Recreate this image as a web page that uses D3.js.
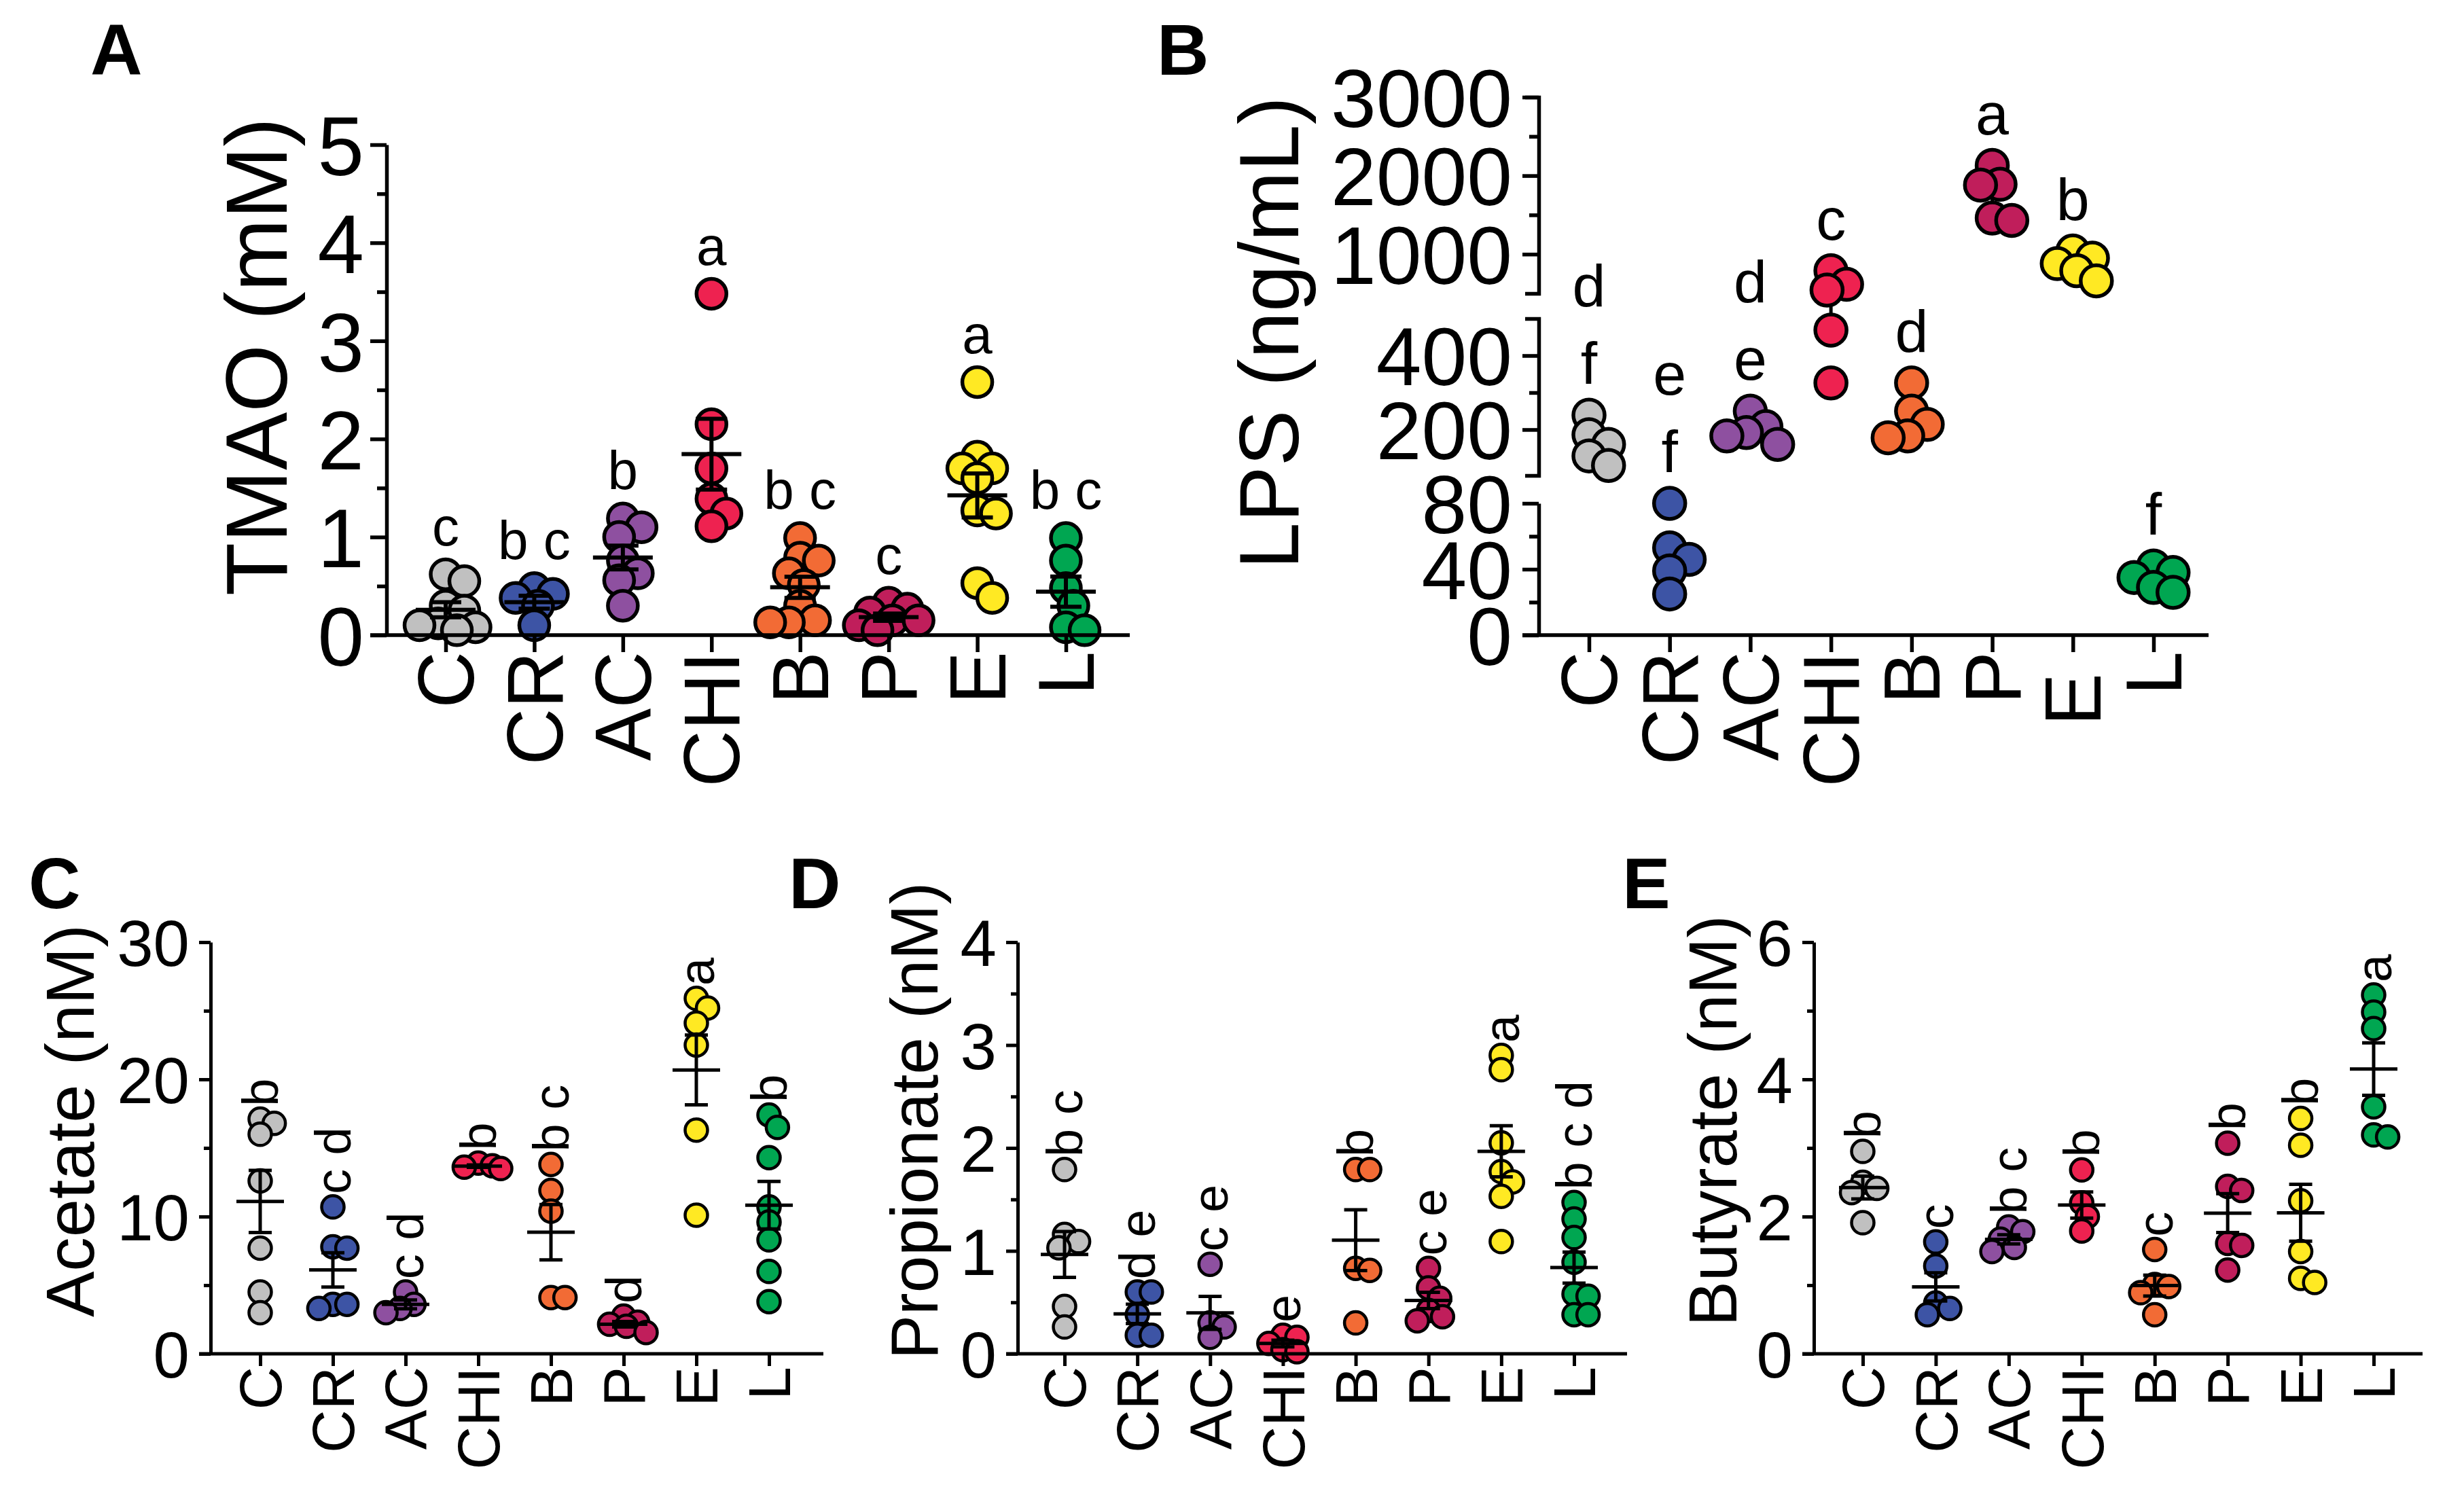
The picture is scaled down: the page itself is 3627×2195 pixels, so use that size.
<!DOCTYPE html>
<html><head><meta charset="utf-8">
<script src="https://cdn.jsdelivr.net/npm/d3@7"></script>
<style>html,body{margin:0;padding:0;background:#fff;} svg{display:block;font-family:"Liberation Sans",Arial,sans-serif;}</style>
</head><body><svg id="chart" width="3627" height="2195"></svg>
<script>
// ---------- data ----------
const categories = ["C","CR","AC","CHI","B","P","E","L"];
const groupColors = ["#c0c0c0","#3d54a5","#8e50a0","#ee2250","#f26b35","#c01e5b","#ffe923","#00a651"];

// A: TMAO (mM)
const tmaoValues = [
  [0.62,0.55,0.3,0.25,0.12,0.1,0.08,0.05],
  [0.48,0.42,0.38,0.3,0.1],
  [1.19,1.1,1.0,0.76,0.63,0.56,0.3],
  [3.48,2.15,1.7,1.39,1.24,1.11],
  [0.99,0.79,0.76,0.63,0.51,0.3,0.15,0.13,0.13],
  [0.33,0.27,0.23,0.15,0.15,0.1,0.05],
  [2.58,1.82,1.7,1.7,1.6,1.27,1.24,0.53,0.38],
  [0.99,0.76,0.48,0.3,0.08,0.05]
];
const tmaoLetters = ["c","b c","b","a","b c","c","a","b c"];
const tmaoTicks = [0,1,2,3,4,5];
const tmaoMinor = [0.5,1.5,2.5,3.5,4.5];

// B: LPS (ng/mL), broken axis
const lpsValues = [
  [239,186,160,129,103],
  [80,53,46,39,25],
  [250,208,192,183,160],
  [790,616,543,469,326],
  [326,250,214,183,178],
  [2130,1890,1880,1460,1430],
  [1040,950,880,790,660],
  [42,38,35,29,26]
];
const lpsTickLabels = ["C","CR","AC","CHI","B","P","E\u00a0","L"];
const lpsLetters = [["d","f"],["e","f"],["d","e"],["c"],["d"],["a"],["b"],["f"]];
const lpsLowDomain = [0,80],  lpsLowTicks = [0,40,80],        lpsLowMinor = [20,60];
const lpsMidDomain = [76,500], lpsMidTicks = [200,400],       lpsMidMinor = [300];
const lpsTopDomain = [500,3000], lpsTopTicks = [1000,2000,3000], lpsTopMinor = [1500,2500];

// C: Acetate (nM)
const acetateValues = [
  [17.1,16.8,16.0,12.6,7.7,4.5,3.0],
  [10.7,7.8,7.7,3.6,3.6,3.3],
  [4.5,3.6,3.3,3.0],
  [13.9,13.7,13.6,13.5],
  [13.8,11.9,10.4,4.1,4.1],
  [2.75,2.3,2.15,2.0,1.55],
  [25.9,25.2,24.1,22.5,16.3,10.1],
  [17.4,16.5,14.3,10.7,9.6,8.3,6.0,3.8]
];
const acetateLetters = ["b","c d","c d","b","b c","d","a","b"];
const acetateTicks = [0,10,20,30], acetateMinor = [5,15,25];

// D: Propionate (nM)
const propionateValues = [
  [1.79,1.16,1.09,1.03,0.46,0.26],
  [0.6,0.6,0.38,0.18,0.18],
  [0.87,0.3,0.26,0.16],
  [0.18,0.16,0.1,0.04,0.02],
  [1.79,1.79,0.83,0.81,0.3],
  [0.83,0.64,0.54,0.42,0.36,0.32],
  [2.9,2.76,2.05,1.77,1.67,1.53,1.09],
  [1.47,1.31,1.13,0.89,0.58,0.56,0.38,0.38]
];
const propionateLetters = ["b c","d e","c e","e","b","c e","a","b c d"];
const propionateTicks = [0,1,2,3,4], propionateMinor = [0.5,1.5,2.5,3.5];

// E: Butyrate (nM)
const butyrateValues = [
  [2.95,2.5,2.41,2.35,1.91],
  [1.63,1.28,0.74,0.66,0.57],
  [1.85,1.78,1.67,1.55,1.49],
  [2.68,2.2,2.0,1.79],
  [1.52,1.01,0.98,0.89,0.57],
  [3.07,2.44,2.38,1.61,1.58,1.22],
  [3.43,3.04,2.23,1.49,1.10,1.04],
  [5.23,4.98,4.74,3.6,3.19,3.16]
];
const butyrateLetters = ["b","c","b c","b","c","b","b","a"];
const butyrateTicks = [0,2,4,6], butyrateMinor = [1,3,5];

// ---------- helpers ----------
const svg = d3.select("#chart");

function swarm(values, yf, r) {
  const minDist = 1.25 * r, maxOff = 1.9 * r, step = r * 0.25;
  const placed = [];
  values.forEach(v => {
    const y = yf(v);
    let best = 0, bestScore = -1;
    const nSteps = Math.ceil(maxOff / step) * 2;
    for (let k = 0; k <= nSteps; k++) {
      const off = (k % 2 === 1 ? 1 : -1) * Math.ceil(k / 2) * step;
      let dmin = Infinity;
      placed.forEach(q => { const d = Math.hypot(off - q.off, y - q.y); if (d < dmin) dmin = d; });
      if (dmin >= minDist) { best = off; bestScore = Infinity; break; }
      if (dmin > bestScore) { bestScore = dmin; best = off; }
    }
    placed.push({v, y, off: best});
  });
  return placed;
}

function stats(arr) {
  const m = d3.mean(arr), sd = d3.deviation(arr);
  return {m, sem: sd / Math.sqrt(arr.length)};
}

function drawPoints(g, values, x, yf, cfg) {
  values.forEach((vals, i) => {
    const pts = swarm(vals, yf, cfg.r);
    g.append("g").selectAll("circle").data(pts).join("circle")
      .attr("cx", d => x(categories[i]) + d.off)
      .attr("cy", d => d.y)
      .attr("r", cfg.r)
      .attr("fill", groupColors[i])
      .attr("stroke", "#000")
      .attr("stroke-width", cfg.sw);
  });
}

function drawMeanSem(g, values, x, yf, cfg) {
  values.forEach((vals, i) => {
    const s = stats(vals), cx = x(categories[i]);
    const gg = g.append("g").attr("stroke", "#000").attr("stroke-width", cfg.lineW);
    gg.append("line").attr("x1", cx - cfg.meanHalf).attr("x2", cx + cfg.meanHalf).attr("y1", yf(s.m)).attr("y2", yf(s.m));
    gg.append("line").attr("x1", cx).attr("x2", cx).attr("y1", yf(s.m - s.sem)).attr("y2", yf(s.m + s.sem));
    [s.m - s.sem, s.m + s.sem].forEach(v => {
      gg.append("line").attr("x1", cx - cfg.capHalf).attr("x2", cx + cfg.capHalf).attr("y1", yf(v)).attr("y2", yf(v));
    });
  });
}

function topEdge(vals, yf, cfg) {
  const s = stats(vals);
  return Math.min(d3.min(vals, v => yf(v)) - cfg.r - cfg.sw / 2, yf(s.m + s.sem));
}

function drawXAxis(g, x, cfg, labels) {
  const ax = d3.axisBottom(x).tickSize(cfg.xTick).tickSizeOuter(0);
  if (labels) ax.tickFormat((d, i) => labels[i]);
  const ga = g.append("g").attr("transform", `translate(0,${cfg.y0})`).call(ax)
    .attr("font-family", null).attr("font-size", null);
  ga.select(".domain").remove();
  ga.selectAll(".tick line").attr("stroke", "#000").attr("stroke-width", cfg.axisW);
  ga.selectAll(".tick text")
    .attr("transform", "rotate(-90)").attr("x", -cfg.xGap).attr("y", 0).attr("dy", "0.35em")
    .attr("text-anchor", "end").attr("font-size", cfg.xFont).attr("fill", "#000")
    .style("white-space", "pre");
  g.append("line").attr("x1", cfg.axisX - cfg.majorTick).attr("x2", cfg.xEnd)
    .attr("y1", cfg.y0).attr("y2", cfg.y0).attr("stroke", "#000").attr("stroke-width", cfg.axisW);
}

function drawYAxis(g, y, ticks, minor, cfg, outer) {
  const ga = g.append("g").attr("transform", `translate(${cfg.axisX},0)`)
    .call(d3.axisLeft(y).tickValues(ticks).tickSize(cfg.majorTick).tickSizeOuter(outer || 0)
      .tickPadding(cfg.tickPad).tickFormat(d3.format("d")))
    .attr("font-family", null).attr("font-size", null);
  ga.select(".domain").attr("stroke", "#000").attr("stroke-width", cfg.axisW);
  ga.selectAll(".tick line").attr("stroke", "#000").attr("stroke-width", cfg.axisW);
  ga.selectAll(".tick text").attr("font-size", cfg.tickFont).attr("fill", "#000").attr("dy", "0.36em");
  const gm = g.append("g").attr("transform", `translate(${cfg.axisX},0)`)
    .call(d3.axisLeft(y).tickValues(minor).tickSize(cfg.minorTick).tickSizeOuter(0).tickFormat(""));
  gm.select(".domain").remove();
  gm.selectAll(".tick line").attr("stroke", "#000").attr("stroke-width", cfg.axisW);
}

function yTitle(g, text, bx, cy, size) {
  g.append("text").attr("transform", `translate(${bx},${cy}) rotate(-90)`)
    .attr("text-anchor", "middle").attr("font-size", size).attr("fill", "#000").text(text);
}

function panelLabel(text, x, y) {
  svg.append("text").attr("x", x).attr("y", y).attr("font-size", 106)
    .attr("font-weight", "bold").attr("fill", "#000").text(text);
}

// ---------- panel A ----------
(function () {
  const cfg = {axisX:569, xEnd:1663, y0:935, yTop:213, majorTick:24, minorTick:14, tickFont:123, tickPad:9,
    xTick:25, xFont:116, xGap:24, r:22, sw:5.5, meanHalf:44, capHalf:23, lineW:6, axisW:5.5};
  const g = svg.append("g");
  const x = d3.scalePoint().domain(categories).range([656, 1569]);
  const y = d3.scaleLinear().domain([0, 5]).range([cfg.y0, cfg.yTop]);
  drawPoints(g, tmaoValues, x, y, cfg);
  drawMeanSem(g, tmaoValues, x, y, cfg);
  drawYAxis(g, y, tmaoTicks, tmaoMinor, cfg);
  drawXAxis(g, x, cfg);
  tmaoValues.forEach((vals, i) => {
    g.append("text").attr("x", x(categories[i])).attr("y", topEdge(vals, y, cfg) - 18)
      .attr("text-anchor", "middle").attr("font-size", 80).attr("fill", "#000").text(tmaoLetters[i]);
  });
  yTitle(g, "TMAO (mM)", 422, 525, 128);
  panelLabel("A", 133, 110);
})();

// ---------- panel B ----------
(function () {
  const cfg = {axisX:2265, xEnd:3251, y0:935, majorTick:24, minorTick:14, tickFont:120, tickPad:15,
    xTick:25, xFont:116, xGap:24, r:23, sw:5.5, meanHalf:20, capHalf:15, lineW:5, axisW:5.5};
  const g = svg.append("g");
  const x = d3.scalePoint().domain(categories).range([2339, 3170]);
  const yLow = d3.scaleLinear().domain(lpsLowDomain).range([935, 741]);
  const yMid = d3.scaleLinear().domain(lpsMidDomain).range([700, 469]);
  const yTopS = d3.scaleLinear().domain(lpsTopDomain).range([432, 143]);
  const y = v => v <= lpsLowDomain[1] ? yLow(v) : (v <= lpsMidDomain[1] ? yMid(v) : yTopS(v));
  drawMeanSem(g, lpsValues, x, y, cfg);
  drawPoints(g, lpsValues, x, y, cfg);
  drawYAxis(g, yLow, lpsLowTicks, lpsLowMinor, cfg, 0);
  drawYAxis(g, yMid, lpsMidTicks, lpsMidMinor, cfg, 20);
  drawYAxis(g, yTopS, lpsTopTicks, lpsTopMinor, cfg, 20);
  drawXAxis(g, x, cfg, lpsTickLabels);
  lpsValues.forEach((vals, i) => {
    const base = d3.min(vals, v => y(v)) - cfg.r - cfg.sw / 2 - 20;
    const labs = lpsLetters[i];
    labs.forEach((t, j) => {
      g.append("text").attr("x", x(categories[i])).attr("y", base - (labs.length - 1 - j) * 114)
        .attr("text-anchor", "middle").attr("font-size", 88).attr("fill", "#000").text(t);
    });
  });
  yTitle(g, "LPS (ng/mL)", 1911, 490, 124);
  panelLabel("B", 1703, 110);
})();

// ---------- bottom panels ----------
function bottomPanel(values, letters, ticks, minor, max, axisX, first, last, xEnd, title, titleX, titleSize, label, labelX) {
  const cfg = {axisX, xEnd, y0:1993, yTop:1387, majorTick:17, minorTick:10, tickFont:96, tickPad:14,
    xTick:18, xFont:88, xGap:19, r:16.5, sw:4.5, meanHalf:35, capHalf:17, lineW:5, axisW:5};
  const g = svg.append("g");
  const x = d3.scalePoint().domain(categories).range([first, last]);
  const y = d3.scaleLinear().domain([0, max]).range([cfg.y0, cfg.yTop]);
  drawPoints(g, values, x, y, cfg);
  drawMeanSem(g, values, x, y, cfg);
  drawYAxis(g, y, ticks, minor, cfg);
  drawXAxis(g, x, cfg);
  values.forEach((vals, i) => {
    const te = topEdge(vals, y, cfg);
    g.append("text").attr("transform", `translate(${x(categories[i])},${te}) rotate(-90)`)
      .attr("dy", "0.35em").attr("text-anchor", "start").attr("font-size", 74).attr("fill", "#000")
      .text(letters[i]);
  });
  yTitle(g, title, titleX, 1650, titleSize);
  panelLabel(label, labelX, 1337);
}
bottomPanel(acetateValues, acetateLetters, acetateTicks, acetateMinor, 30, 310, 383, 1132, 1212, "Acetate (nM)", 138, 101, "C", 42);
bottomPanel(propionateValues, propionateLetters, propionateTicks, propionateMinor, 4, 1498, 1567, 2317, 2395, "Propionate (nM)", 1380, 98, "D", 1161);
bottomPanel(butyrateValues, butyrateLetters, butyrateTicks, butyrateMinor, 6, 2670, 2742, 3494, 3566, "Butyrate (nM)", 2556, 100, "E", 2388);
</script>
</body></html>
